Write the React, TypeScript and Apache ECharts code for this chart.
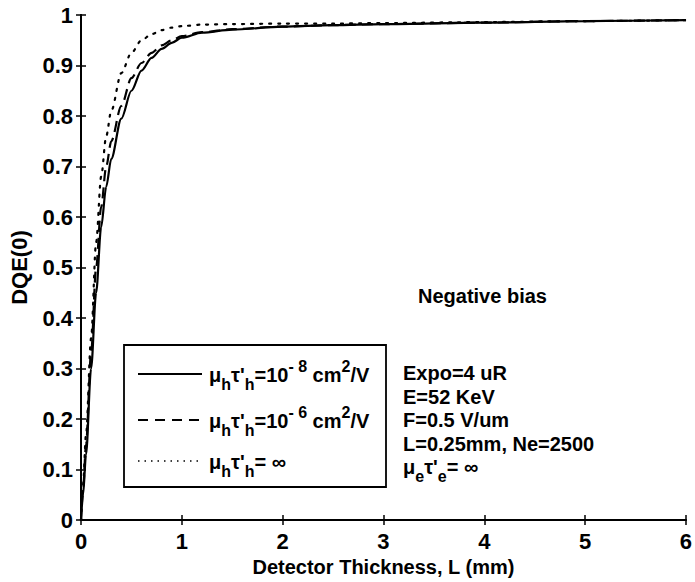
import React, { useEffect, useRef } from "react";
import * as echarts from "echarts";

// Detector thickness samples (mm)
const thickness = [0, 0.02, 0.05, 0.1, 0.15, 0.2, 0.25, 0.3, 0.4, 0.5, 0.6, 0.7, 0.8, 0.9, 1.0, 1.2, 1.5, 2, 2.5, 3, 4, 5, 6];

// DQE(0) for mu_h tau'_h = 1e-8 cm^2/V
const dqeTau8 = [0, 0.05, 0.13, 0.3, 0.45, 0.58, 0.66, 0.715, 0.795, 0.85, 0.89, 0.915, 0.933, 0.945, 0.955, 0.965, 0.971, 0.977, 0.98, 0.982, 0.985, 0.988, 0.99];
// DQE(0) for mu_h tau'_h = 1e-6 cm^2/V
const dqeTau6 = [0, 0.06, 0.15, 0.33, 0.5, 0.62, 0.7, 0.75, 0.82, 0.875, 0.905, 0.925, 0.94, 0.95, 0.958, 0.966, 0.972, 0.977, 0.98, 0.982, 0.985, 0.988, 0.99];
// DQE(0) for mu_h tau'_h = infinity
const dqeTauInf = [0, 0.07, 0.17, 0.36, 0.55, 0.68, 0.76, 0.81, 0.885, 0.925, 0.95, 0.962, 0.97, 0.975, 0.978, 0.981, 0.982, 0.983, 0.983, 0.984, 0.986, 0.988, 0.99];

const xTicks = [0, 1, 2, 3, 4, 5, 6];
const yTicks = [0, 0.1, 0.2, 0.3, 0.4, 0.5, 0.6, 0.7, 0.8, 0.9, 1];

const conditions = ["Expo=4 uR", "E=52 KeV", "F=0.5 V/um", "L=0.25mm, Ne=2500"];

const FONT = "'Liberation Sans', Arial, sans-serif";

const pairs = (ys: number[]) => thickness.map((x, i) => [x, ys[i]]);

export default function App() {
  const ref = useRef<HTMLDivElement>(null);

  useEffect(() => {
    if (!ref.current) return;
    const chart = echarts.init(ref.current, null, { renderer: "svg" });

    const baseText = { fontFamily: FONT, fontWeight: "bold" as const, color: "#000" };
    const rich = {
      n: { ...baseText, fontSize: 20, lineHeight: 34, verticalAlign: "middle" as const },
      sub: { ...baseText, fontSize: 16, lineHeight: 34, verticalAlign: "bottom" as const },
      sup: { ...baseText, fontSize: 16, lineHeight: 34, verticalAlign: "top" as const },
    };

    const legendEntry = (y: number, label: string, dash: number[] | null) => [
      {
        type: "line",
        shape: { x1: 138, y1: y, x2: 202, y2: y },
        style: { stroke: "#000", lineWidth: dash && dash[0] < 3 ? 1.4 : 1.8, lineDash: dash || undefined },
        z: 10,
      },
      {
        type: "text",
        x: 209,
        y: y + 1,
        style: { text: label, rich, verticalAlign: "middle", align: "left" },
        z: 10,
      },
    ];

    const axisCommon = {
      min: 0,
      axisLine: { show: true, lineStyle: { color: "#000", width: 2 } },
      axisTick: { show: true, inside: true, length: 5, lineStyle: { color: "#000", width: 1.5 } },
      splitLine: { show: false },
    };

    chart.setOption({
      animation: false,
      backgroundColor: "#fff",
      grid: { left: 79, right: 7, top: 15, bottom: 60, containLabel: false },
      xAxis: [
        {
          ...axisCommon,
          type: "value",
          max: 6,
          interval: 1,
          position: "bottom",
          name: "Detector Thickness, L (mm)",
          nameLocation: "middle",
          nameGap: 35,
          nameTextStyle: { ...baseText, fontSize: 20 },
          axisLabel: {
            ...baseText,
            fontSize: 22,
            margin: 10,
            formatter: (v: number) => (xTicks.includes(v) ? String(v) : ""),
          },
        },
        {
          ...axisCommon,
          type: "value",
          max: 6,
          interval: 1,
          position: "top",
          axisLabel: { show: false },
        },
      ],
      yAxis: [
        {
          ...axisCommon,
          type: "value",
          max: 1,
          interval: 0.1,
          position: "left",
          name: "DQE(0)",
          nameLocation: "middle",
          nameGap: 51,
          nameRotate: 90,
          nameTextStyle: { ...baseText, fontSize: 22 },
          axisLabel: {
            ...baseText,
            fontSize: 22,
            margin: 8,
            formatter: (v: number) => {
              const t = yTicks.find((k) => Math.abs(k - v) < 1e-6);
              if (t === undefined) return "";
              return t === 0 || t === 1 ? String(t) : t.toFixed(1);
            },
          },
        },
        {
          ...axisCommon,
          type: "value",
          max: 1,
          interval: 0.1,
          position: "right",
          axisLabel: { show: false },
        },
      ],
      series: [
        {
          type: "line",
          data: pairs(dqeTau8),
          showSymbol: false,
          smooth: 0.3,
          smoothMonotone: "x",
          lineStyle: { color: "#000", width: 2.2, type: "solid" },
          z: 3,
        },
        {
          type: "line",
          data: pairs(dqeTau6),
          showSymbol: false,
          smooth: 0.3,
          smoothMonotone: "x",
          lineStyle: { color: "#000", width: 2.2, type: [11, 6] },
          z: 3,
        },
        {
          type: "line",
          data: pairs(dqeTauInf),
          showSymbol: false,
          smooth: 0.3,
          smoothMonotone: "x",
          lineStyle: { color: "#000", width: 2.2, type: [2, 7], cap: "round" },
          z: 3,
        },
      ],
      graphic: [
        {
          type: "rect",
          shape: { x: 124, y: 345, width: 262, height: 142 },
          style: { fill: "#fff", stroke: "#000", lineWidth: 1.8 },
          z: 9,
        },
        ...legendEntry(374, "{n|μ}{sub|h}{n|τ'}{sub|h}{n|=10}{sup|- 8}{n| cm}{sup|2}{n|/V}", null),
        ...legendEntry(420, "{n|μ}{sub|h}{n|τ'}{sub|h}{n|=10}{sup|- 6}{n| cm}{sup|2}{n|/V}", [10, 7]),
        ...legendEntry(461, "{n|μ}{sub|h}{n|τ'}{sub|h}{n|= ∞}", [1.5, 5]),
        {
          type: "text",
          x: 418,
          y: 296,
          style: { text: "Negative bias", ...baseText, fill: "#000", fontSize: 20, verticalAlign: "middle" },
          z: 10,
        },
        ...conditions.map((c, i) => ({
          type: "text",
          x: 403,
          y: 373 + i * 23.5,
          style: { text: c, ...baseText, fill: "#000", fontSize: 20, verticalAlign: "middle" },
          z: 10,
        })),
        {
          type: "text",
          x: 403,
          y: 467,
          style: {
            text: "{n|μ}{sub|e}{n|τ'}{sub|e}{n|= ∞}",
            rich,
            verticalAlign: "middle",
          },
          z: 10,
        },
      ],
    });

    return () => chart.dispose();
  }, []);

  return (
    <div
      ref={ref}
      style={{ position: "fixed", left: 0, top: 0, width: 695, height: 582, background: "#fff" }}
    />
  );
}
